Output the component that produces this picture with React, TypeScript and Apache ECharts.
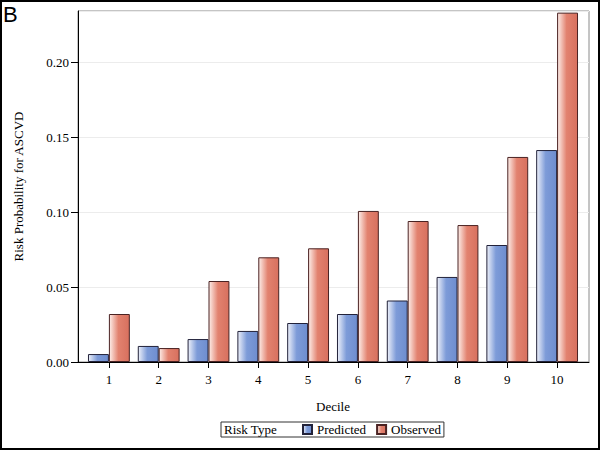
import React, { useEffect, useRef } from "react";
import * as echarts from "echarts";

const deciles = ["1", "2", "3", "4", "5", "6", "7", "8", "9", "10"];
const predicted = [0.0053, 0.0107, 0.0153, 0.0207, 0.026, 0.032, 0.041, 0.0567, 0.078, 0.1413];
const observed = [0.032, 0.0093, 0.054, 0.0698, 0.0758, 0.1007, 0.094, 0.0913, 0.1367, 0.2329];
const seriesNames = ["Predicted", "Observed"];
const yMax = 0.234;

const FONT = "'Liberation Serif', 'Times New Roman', serif";

function grad(light: string, mid: string, dark: string) {
  return new echarts.graphic.LinearGradient(0, 0, 1, 0, [
    { offset: 0, color: light },
    { offset: 0.45, color: mid },
    { offset: 1, color: dark },
  ]);
}

export default function App() {
  const ref = useRef<HTMLDivElement>(null);
  useEffect(() => {
    if (!ref.current) return;
    const chart = echarts.init(ref.current, null, { renderer: "svg" });
    const predColor = grad("#eef1fa", "#7d9bd8", "#6e8dcf");
    const obsColor = grad("#fdeee9", "#e2826f", "#d8705e");
    chart.setOption({
      animation: false,
      backgroundColor: "#ffffff",
      textStyle: { fontFamily: FONT },
      grid: [
        { left: 78, right: 11, top: 11, bottom: 88, show: true, borderColor: "#8a8a8a", borderWidth: 1, backgroundColor: "transparent" },
        { left: 84, right: 18, top: 11, bottom: 88 },
      ],
      xAxis: [
        {
          gridIndex: 0, type: "value", min: 0, max: 1,
          axisLine: { show: true, onZero: false, lineStyle: { color: "#000", width: 1 } },
          axisTick: { show: false }, axisLabel: { show: false }, splitLine: { show: false },
        },
        {
          gridIndex: 1, type: "category", data: deciles,
          name: "Decile", nameLocation: "middle", nameGap: 38,
          nameTextStyle: { fontFamily: FONT, fontSize: 13, color: "#000" },
          axisLine: { show: false },
          axisTick: { show: true, alignWithLabel: true, length: 6, lineStyle: { color: "#000" } },
          axisLabel: { fontFamily: FONT, fontSize: 13, color: "#000", margin: 11 },
        },
      ],
      yAxis: [
        {
          gridIndex: 0, type: "value", min: 0, max: yMax, interval: 0.05,
          name: "Risk Probability for ASCVD", nameLocation: "middle", nameGap: 53,
          nameTextStyle: { fontFamily: FONT, fontSize: 13, color: "#000" },
          axisLine: { show: true, lineStyle: { color: "#000", width: 1 } },
          axisTick: { show: true, length: 7, lineStyle: { color: "#000" } },
          axisLabel: { fontFamily: FONT, fontSize: 13, color: "#000", margin: 9, showMaxLabel: false, formatter: (v: number) => v.toFixed(2) },
          splitLine: { show: true, lineStyle: { color: "#ececec", width: 1 } },
        },
        {
          gridIndex: 1, type: "value", min: 0, max: yMax, show: false,
          splitLine: { show: false },
        },
      ],
      legend: {
        data: seriesNames,
        left: 221, top: 422,
        padding: [1, 3, 1, 81],
        itemGap: 10,
        itemWidth: 9, itemHeight: 9,
        icon: "rect",
        borderColor: "#333", borderWidth: 1,
        textStyle: { fontFamily: FONT, fontSize: 13, color: "#000" },
      },
      graphic: [
        { type: "text", left: 3, top: 3, style: { text: "B", font: "22px 'Liberation Sans', Arial, sans-serif", fill: "#000" } },
        { type: "text", left: 224, top: 423, style: { text: "Risk Type", font: "13px 'Liberation Serif', serif", fill: "#000" } },
        { type: "rect", shape: { x: 1, y: 1, width: 598, height: 448 }, style: { fill: "none", stroke: "#000", lineWidth: 2 }, silent: true },
      ],
      series: [
        {
          name: seriesNames[0], type: "bar", xAxisIndex: 1, yAxisIndex: 1, data: predicted,
          barGap: "0%", barCategoryGap: "16%",
          itemStyle: { color: predColor, borderColor: "#22223a", borderWidth: 1 },
        },
        {
          name: seriesNames[1], type: "bar", xAxisIndex: 1, yAxisIndex: 1, data: observed,
          barGap: "0%", barCategoryGap: "16%",
          itemStyle: { color: obsColor, borderColor: "#4a2222", borderWidth: 1 },
        },
      ],
    });
    return () => chart.dispose();
  }, []);
  return <div ref={ref} style={{ position: "absolute", left: 0, top: 0, width: 600, height: 450 }} />;
}
